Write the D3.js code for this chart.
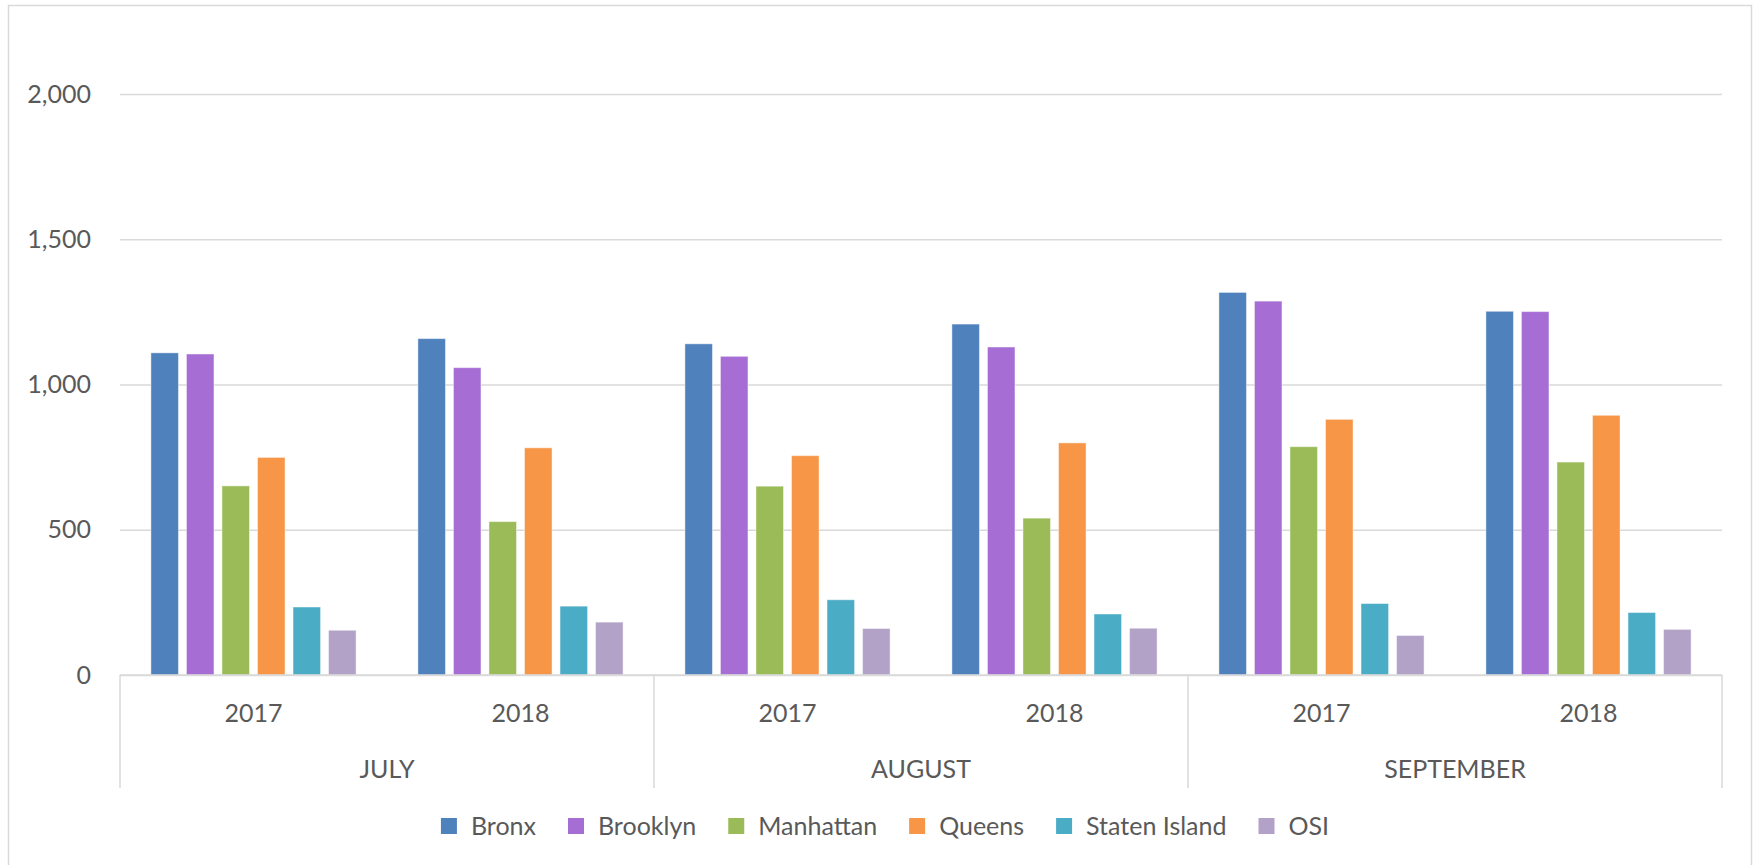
<!DOCTYPE html>
<html>
<head>
<meta charset="utf-8">
<script src="https://cdn.jsdelivr.net/npm/d3@7"></script>
<style>
  body { margin: 0; background: #fff; }
  text { font-family: Lato, "Open Sans", sans-serif; fill: #595959; }
</style>
</head>
<body>
<div id="chart-area"></div>
<script>
// values, one array per borough (JULY 17, JULY 18, AUG 17, AUG 18, SEP 17, SEP 18)
var months = ["JULY", "AUGUST", "SEPTEMBER"];
var years = ["2017", "2018"];
var series = ["Bronx", "Brooklyn", "Manhattan", "Queens", "Staten Island", "OSI"];
var bronx = [1109, 1158, 1140, 1208, 1317, 1252];
var brooklyn = [1105, 1058, 1097, 1129, 1287, 1251];
var manhattan = [651, 528, 650, 540, 786, 733];
var queens = [749, 782, 755, 799, 880, 894];
var statenIsland = [234, 237, 259, 210, 246, 215];
var osi = [154, 182, 160, 161, 136, 157];
var yTicks = [0, 500, 1000, 1500, 2000];
var colors = ["#4f81bd", "#a66dd4", "#9bbb59", "#f79646", "#4bacc6", "#b3a2c7"];

var W = 1761, H = 865;
var plotLeft = 120, plotRight = 1722, plotTop = 94, plotBottom = 675;

var svg = d3.select("#chart-area").append("svg")
    .attr("width", W)
    .attr("height", H);

// outer chart frame
svg.append("rect")
    .attr("x", 8.5).attr("y", 5.5)
    .attr("width", 1743).attr("height", H + 10)
    .attr("fill", "none")
    .attr("stroke", "#d9d9d9")
    .attr("stroke-width", 1.5);

var seriesValues = [bronx, brooklyn, manhattan, queens, statenIsland, osi];

// flatten to groups
var groups = [];
months.forEach((m, i) => {
    years.forEach((yr, j) => {
        groups.push({ key: m + "-" + yr, month: m, year: yr, idx: i * years.length + j });
    });
});

var xMonth = d3.scaleBand()
    .domain(months)
    .range([plotLeft, plotRight]);

var xGroup = d3.scaleBand()
    .domain(groups.map((g) => g.key))
    .range([plotLeft, plotRight]);

var xSeries = d3.scaleBand()
    .domain(series)
    .range([0, xGroup.bandwidth()])
    .paddingInner(0.225)
    .paddingOuter(0.87);

var y = d3.scaleLinear()
    .domain([0, 2000])
    .range([plotBottom, plotTop]);

// gridlines
svg.append("g")
    .attr("transform", "translate(" + plotLeft + ",0)")
    .call(d3.axisLeft(y).tickValues(yTicks).tickSize(-(plotRight - plotLeft)).tickFormat(""))
    .call((g) => g.select(".domain").remove())
    .call((g) => g.selectAll("line").attr("stroke", "#d9d9d9").attr("stroke-width", 1.5));

// y labels
svg.append("g")
    .attr("transform", "translate(" + plotLeft + ",0)")
    .call(d3.axisLeft(y).tickValues(yTicks).tickSize(0).tickPadding(29).tickFormat(d3.format(",")))
    .call((g) => g.select(".domain").remove())
    .call((g) => g.selectAll("text").attr("font-size", 25).style("font-family", "Lato, sans-serif").attr("fill", "#595959"));

// bars
var barData = [];
groups.forEach((g) => {
    series.forEach((s, k) => {
        barData.push({ group: g.key, series: s, value: seriesValues[k][g.idx], color: colors[k] });
    });
});

svg.append("g").selectAll("rect")
    .data(barData)
    .enter()
    .append("rect")
        .attr("x", (d) => xGroup(d.group) + xSeries(d.series))
        .attr("y", (d) => y(d.value))
        .attr("width", xSeries.bandwidth())
        .attr("height", (d) => y(0) - y(d.value))
        .attr("fill", (d) => d.color)
        .attr("stroke", "#ffffff")
        .attr("stroke-opacity", 0.45)
        .attr("stroke-width", 1);

// category axis: baseline and month separators
svg.append("line")
    .attr("x1", plotLeft).attr("x2", plotRight)
    .attr("y1", plotBottom).attr("y2", plotBottom)
    .attr("stroke", "#d9d9d9").attr("stroke-width", 1.5);

var sepX = months.map((m) => xMonth(m)).concat([plotRight]);
svg.append("g").selectAll("line")
    .data(sepX)
    .enter()
    .append("line")
        .attr("x1", (d) => d).attr("x2", (d) => d)
        .attr("y1", plotBottom).attr("y2", 788)
        .attr("stroke", "#d9d9d9").attr("stroke-width", 1.5);

svg.append("g").selectAll("text")
    .data(groups)
    .enter()
    .append("text")
        .attr("x", (d) => xGroup(d.key) + xGroup.bandwidth() / 2)
        .attr("y", 722)
        .attr("text-anchor", "middle")
        .attr("font-size", 25)
        .text((d) => d.year);

svg.append("g").selectAll("text")
    .data(months)
    .enter()
    .append("text")
        .attr("x", (d) => xMonth(d) + xMonth.bandwidth() / 2)
        .attr("y", 778)
        .attr("text-anchor", "middle")
        .attr("font-size", 25)
        .text((d) => d);

// legend
var legend = svg.append("g");
var items = legend.selectAll("g")
    .data(series)
    .enter()
    .append("g");

items.append("rect")
    .attr("width", 16).attr("height", 16)
    .attr("y", 818)
    .attr("fill", (d, i) => colors[i]);

items.append("text")
    .attr("x", 30)
    .attr("y", 835)
    .attr("font-size", 25)
    .text((d) => d);

var pos = 0;
var offsets = [];
items.each(function() {
    offsets.push(pos);
    var w = d3.select(this).select("text").node().getComputedTextLength();
    pos += 30 + w + 32;
});
var totalW = pos - 32;
var startX = 885 - totalW / 2;
items.attr("transform", (d, i) => "translate(" + (startX + offsets[i]) + ",0)");
</script>
</body>
</html>
